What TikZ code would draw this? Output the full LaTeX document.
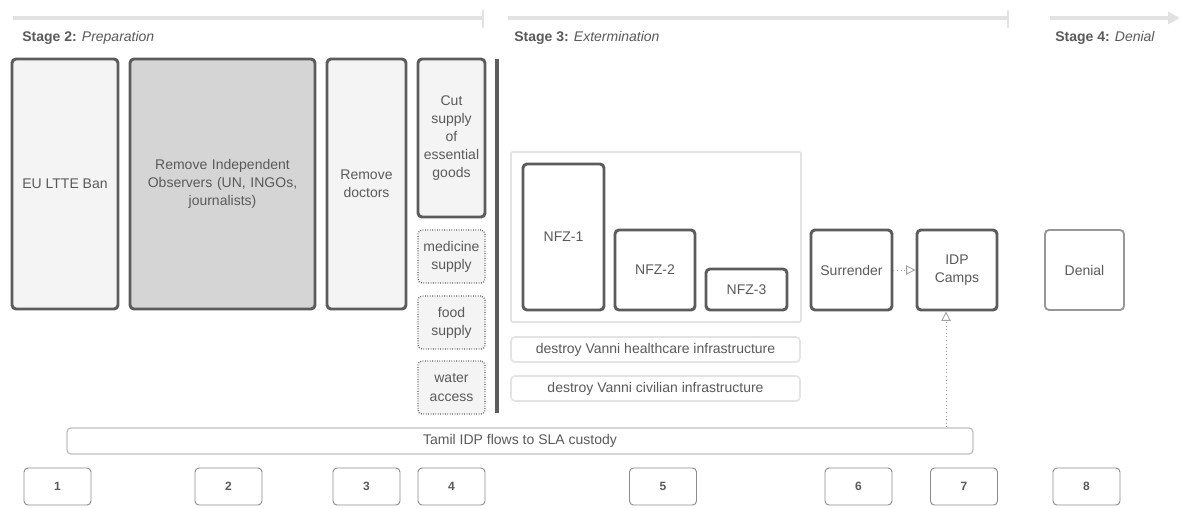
\documentclass[tikz,border=0pt]{standalone}
\usepackage{fontspec}
\setmainfont{Liberation Sans}
\usetikzlibrary{arrows.meta}
\definecolor{txt}{HTML}{5A5A5A}
\definecolor{bd}{HTML}{5C5C5C}
\definecolor{lightfill}{HTML}{F4F4F4}
\definecolor{midfill}{HTML}{D5D5D5}
\definecolor{tl}{HTML}{E2E2E2}
\definecolor{faint}{HTML}{E3E3E3}
\definecolor{numbd}{HTML}{8C8C8C}
\tikzset{
  base/.style={rectangle, rounded corners=3pt, inner sep=1pt, align=center, text=txt, font=\fontsize{10.5}{13.6}\selectfont},
  heavy/.style={base, draw=bd, line width=2.2pt},
  dotbox/.style={base, draw=bd, line width=1pt, dash pattern=on 0.6pt off 1.2pt, fill=lightfill},
  faintbox/.style={base, draw=faint, line width=1.2pt, fill=white},
  numbox/.style={base, draw=numbd, line width=0.7pt, fill=white, minimum width=50.25pt, minimum height=27.75pt, font=\fontsize{9}{10}\selectfont\bfseries},
  timeline/.style={draw=tl, line width=3.6pt},
  tick/.style={draw=tl, line width=2.2pt},
  flow/.style={draw=numbd!80, line width=0.7pt, dotted, -{Triangle[open, length=7pt, width=7pt]}},
  stagelbl/.style={anchor=west, inner sep=0pt, text=txt, font=\fontsize{10.5}{12}\selectfont}
}
\begin{document}
\begin{tikzpicture}[x=0.75pt, y=-0.75pt]
\useasboundingbox (0,0) rectangle (1181,508);
\fill[white] (0,0) rectangle (1181,508);

% timelines
\coordinate (t1a) at (13,18); \coordinate (t1b) at (483,18);
\coordinate (t2a) at (508,18); \coordinate (t2b) at (1008,18);
\coordinate (t3a) at (1050,18); \coordinate (t3b) at (1180,18);
\draw[timeline] (t1a) -- (t1b);
\draw[tick] ([yshift=-7.5pt]t1b) -- ([yshift=6pt]t1b);
\draw[timeline] (t2a) -- (t2b);
\draw[tick] ([yshift=-7.5pt]t2b) -- ([yshift=6pt]t2b);
\draw[timeline, -{Triangle[length=9pt, width=9pt]}] (t3a) -- (t3b);

\node[stagelbl] (s2) at (22,38) {\textbf{Stage 2:} \textit{Preparation}};
\node[stagelbl] (s3) at (514,38) {\textbf{Stage 3:} \textit{Extermination}};
\node[stagelbl] (s4) at (1055,38) {\textbf{Stage 4:} \textit{Denial}};

% stage 2 boxes
\node[heavy, fill=lightfill, minimum width=79.5pt, minimum height=187.5pt] (eu) at (65,184) {EU LTTE Ban};
\node[heavy, fill=midfill, minimum width=138.75pt, minimum height=187.5pt, text width=125pt] (obs) at (222.5,184) {Remove Independent\\Observers (UN, INGOs,\\journalists)};
\node[heavy, fill=lightfill, minimum width=59.25pt, minimum height=187.5pt] (doc) at (366.5,184) {Remove\\doctors};
\node[heavy, fill=lightfill, minimum width=50.25pt, minimum height=118.5pt] (cut) at (451.5,138) {Cut\\supply\\of\\essential\\goods};
\node[dotbox, minimum width=50.25pt, minimum height=39.75pt] (med) at (451.5,256.5) {medicine\\supply};
\node[dotbox, minimum width=50.25pt, minimum height=39.75pt] (food) at (451.5,322.5) {food\\supply};
\node[dotbox, minimum width=50.25pt, minimum height=39.75pt] (water) at (451.5,387.5) {water\\access};
\coordinate (va) at (497,59); \coordinate (vb) at (497,413);
\draw[draw=bd, line width=2.4pt] (va) -- (vb);

% stage 3
\node[faintbox, rounded corners=1pt, minimum width=217.5pt, minimum height=127.5pt] (nfz) at (656,237) {};
\node[heavy, fill=white, minimum width=60.75pt, minimum height=109.5pt] (n1) at (563.5,237) {NFZ-1};
\node[heavy, fill=white, minimum width=60pt, minimum height=60pt] (n2) at (655,270) {NFZ-2};
\node[heavy, fill=white, minimum width=60.75pt, minimum height=30.75pt] (n3) at (746.5,289.5) {NFZ-3};
\node[faintbox, minimum width=216.75pt, minimum height=18.75pt] (dh) at (655.5,349.5) {destroy Vanni healthcare infrastructure};
\node[faintbox, minimum width=216.75pt, minimum height=18.75pt] (dc) at (655.5,388.5) {destroy Vanni civilian infrastructure};
\node[heavy, fill=white, minimum width=60.75pt, minimum height=60pt] (sur) at (851.5,270) {Surrender};
\node[heavy, fill=white, minimum width=60pt, minimum height=60pt] (idp) at (957,270) {IDP\\Camps};

% stage 4
\node[base, draw=numbd!90, line width=1.4pt, fill=white, minimum width=59.25pt, minimum height=60pt] (den) at (1084.5,270) {Denial};

% flows
\node[faintbox, draw=faint!85!black, line width=1pt, minimum width=679.5pt, minimum height=19.5pt] (tamil) at (520,441) {Tamil IDP flows to SLA custody};
\coordinate (ax) at (946,0);
\draw[flow] (sur) -- (idp);
\draw[flow] (tamil.north -| ax) -- (idp.south -| ax);

% numbers
\node[numbox] (b1) at (57.5,486.5) {1};
\node[numbox] (b2) at (228.5,486.5) {2};
\node[numbox] (b3) at (366.5,486.5) {3};
\node[numbox] (b4) at (451.5,486.5) {4};
\node[numbox] (b5) at (663,486.5) {5};
\node[numbox] (b6) at (858.5,486.5) {6};
\node[numbox] (b7) at (964,486.5) {7};
\node[numbox] (b8) at (1086.5,486.5) {8};
\end{tikzpicture}
\end{document}
